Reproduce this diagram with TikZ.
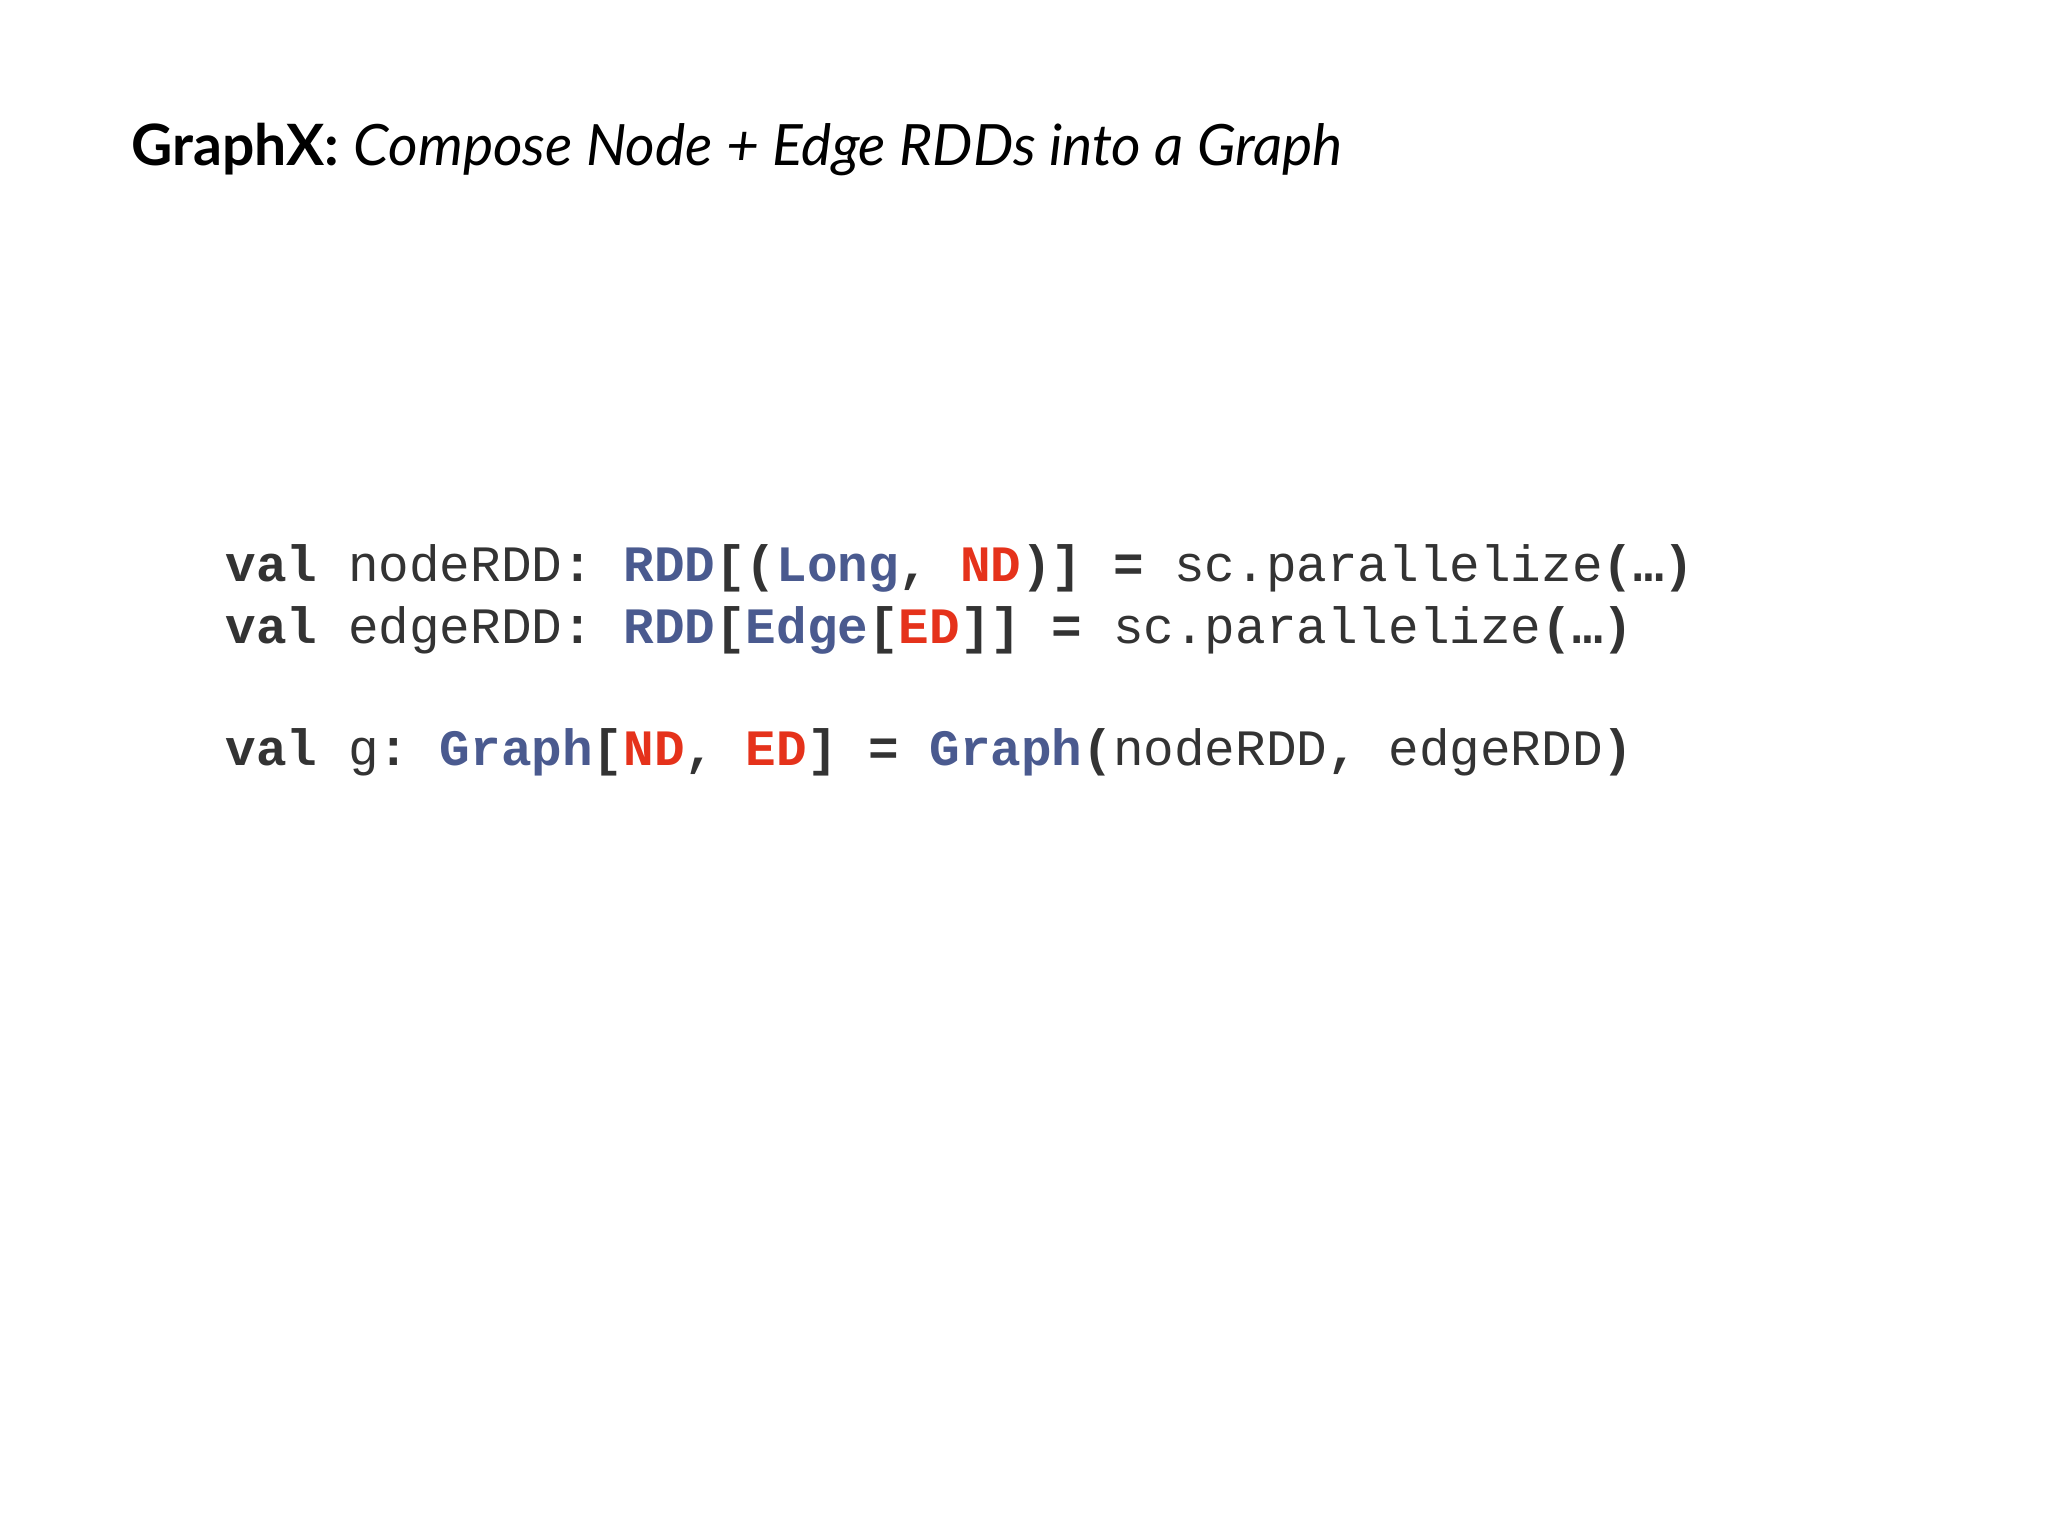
\documentclass[tikz,border=0pt]{standalone}
\usepackage{fontspec}
\setmainfont{Lato}
\setmonofont{Liberation Mono}
\definecolor{kwblue}{HTML}{4A5A8F}
\definecolor{kwred}{HTML}{E5321B}
\definecolor{codegray}{HTML}{333333}
\newcommand{\B}[1]{\textcolor{kwblue}{\textbf{#1}}}
\newcommand{\R}[1]{\textcolor{kwred}{\textbf{#1}}}
\newcommand{\K}[1]{\textbf{#1}}
\begin{document}
\begin{tikzpicture}[x=0.01cm,y=-0.01cm,
  code/.style={anchor=base west,inner sep=0,font=\ttfamily\fontsize{14.5}{16}\selectfont,text=codegray}]
\useasboundingbox (0,0) rectangle (2048,1536);
\node[anchor=base west,inner sep=0,font=\fontsize{16.2}{20}\selectfont] (title) at (131,165)
  {\textbf{GraphX:} \textit{Compose Node + Edge RDDs into a Graph}};
\node[code] (l1) at (225,581) {\K{val} nodeRDD\K{:} \B{RDD}\K{[(}\B{Long}\K{,} \R{ND}\K{)]} \K{=} sc.parallelize\K{(…)}};
\node[code] (l2) at (225,643) {\K{val} edgeRDD\K{:} \B{RDD}\K{[}\B{Edge}\K{[}\R{ED}\K{]]} \K{=} sc.parallelize\K{(…)}};
\node[code] (l3) at (225,765) {\K{val} g\K{:} \B{Graph}\K{[}\R{ND}\K{,} \R{ED}\K{]} \K{=} \B{Graph}\K{(}nodeRDD\K{,} edgeRDD\K{)}};
\end{tikzpicture}
\end{document}
